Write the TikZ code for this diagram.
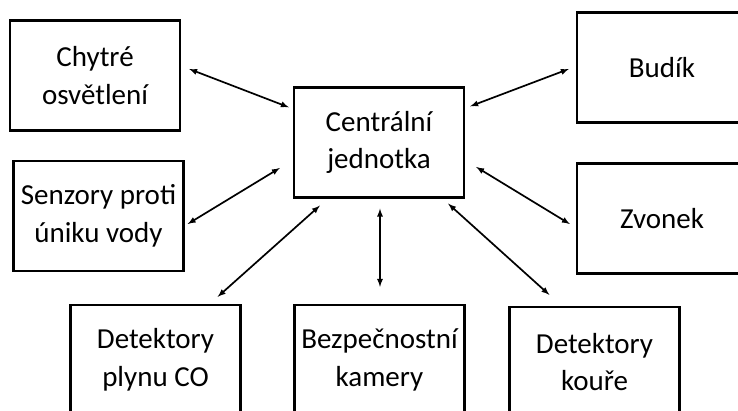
\documentclass[tikz,border=0pt]{standalone}
\usepackage{fontspec}
\setmainfont{Carlito}
\usetikzlibrary{arrows, calc}

\begin{document}
\begin{tikzpicture}[x=1pt, y=-1pt,
  unit/.style={rectangle, draw=black, line width=2.4pt, minimum width=170pt, minimum height=110pt, align=center, font=\fontsize{29}{37.5}\selectfont},
  link/.style={<->, >=latex, line width=1.7pt}]
\useasboundingbox (0,0) rectangle (738,411);
\clip (0,0) rectangle (738,411);

\node[unit] (centralni) at (379, 142.5) {Centrální\\jednotka};
\node[unit] (chytre) at (95, 75.5) {Chytré\\osvětlení};
\node[unit] (senzory) at (98.5, 216) {Senzory proti\\úniku vody};
\node[unit] (budik) at (662, 67.5) {Budík};
\node[unit] (zvonek) at (662, 218.5) {Zvonek};
\node[unit] (plynCO) at (155.5, 360) {Detektory\\plynu CO};
\node[unit] (kamery) at (379.5, 360) {Bezpečnostní\\kamery};
\node[unit] (koure) at (594.5, 362) {Detektory\\kouře};

%connections
\draw[link] ($(chytre.east)+(8,-6.5)$) to ($(centralni.north west)+(-4,21)$);
\draw[link] ($(senzory.east)+(3,8)$) to ($(centralni.west)+(-13,25.5)$);
\draw[link] ($(plynCO.north east)+(-24,-7)$) to ($(centralni.south west)+(27,7)$);
\draw[link] ($(centralni.south)+(1,10)$) to ($(kamery.north)+(0.5,-17)$);
\draw[link] ($(centralni.south east)+(-17,5)$) to ($(koure.north west)+(41,-11)$);
\draw[link] ($(centralni.east)+(11,24.5)$) to ($(zvonek.west)+(-6,5.5)$);
\draw[link] ($(centralni.north east)+(5,20)$) to ($(budik.west)+(-7,1.5)$);
\end{tikzpicture}
\end{document}
